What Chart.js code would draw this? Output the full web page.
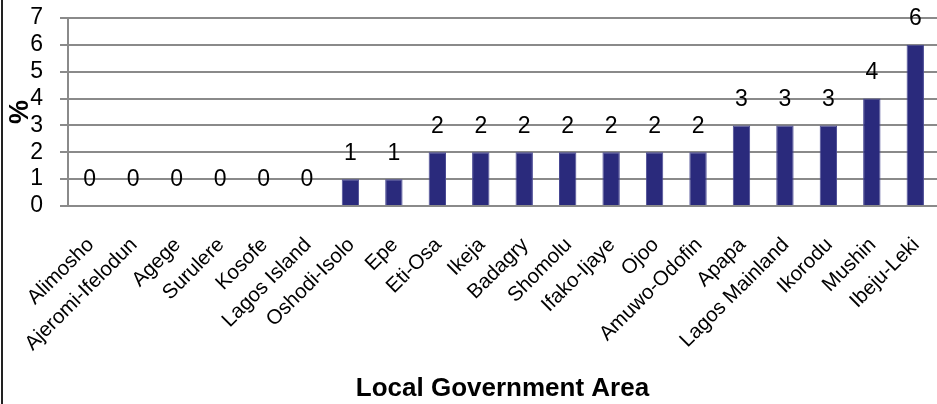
<!DOCTYPE html>
<html>
<head>
<meta charset="utf-8">
<script src="https://cdn.jsdelivr.net/npm/chart.js@4.4.1/dist/chart.umd.min.js"></script>
<style>
  html, body { margin: 0; padding: 0; background: #fff; }
  #wrap { position: relative; width: 937px; height: 404px; }
  #wrap::before {
    content: ""; position: absolute; left: 1px; top: 0; width: 2px; height: 100%;
    background: #222;
  }
  canvas { display: block; }
</style>
</head>
<body>
<div id="wrap"><canvas id="lga-chart" width="937" height="404"></canvas></div>
<script>
const areas = [
  "Alimosho", "Ajeromi-Ifelodun", "Agege", "Surulere", "Kosofe", "Lagos Island",
  "Oshodi-Isolo", "Epe", "Eti-Osa", "Ikeja", "Badagry", "Shomolu", "Ifako-Ijaye",
  "Ojoo", "Amuwo-Odofin", "Apapa", "Lagos Mainland", "Ikorodu", "Mushin", "Ibeju-Leki"
];
const percent = [0, 0, 0, 0, 0, 0, 1, 1, 2, 2, 2, 2, 2, 2, 2, 3, 3, 3, 4, 6];
const yTicks = [0, 1, 2, 3, 4, 5, 6, 7];

const FONT = "'Liberation Sans', Arial, sans-serif";
const GRID = "#8a8a8a";

// value labels sit one unit above each bar, as in the source
const valueLabels = {
  id: "valueLabels",
  afterDatasetsDraw(chart) {
    const { ctx } = chart;
    const y = chart.scales.y;
    const meta = chart.getDatasetMeta(0);
    ctx.save();
    ctx.font = "23px " + FONT;
    ctx.fillStyle = "#000";
    ctx.textAlign = "center";
    ctx.textBaseline = "middle";
    meta.data.forEach((bar, i) => {
      ctx.fillText(String(percent[i]), bar.x, y.getPixelForValue(percent[i] + 1) + 1);
    });
    ctx.restore();
  }
};

new Chart(document.getElementById("lga-chart"), {
  type: "bar",
  data: {
    labels: areas,
    datasets: [{
      data: percent,
      backgroundColor: "#2a2a7c",
      borderColor: "#4a4a94",
      borderWidth: 1,
      barPercentage: 0.4,
      categoryPercentage: 1
    }]
  },
  options: {
    responsive: false,
    animation: false,
    layout: { padding: { top: 18, left: 0, right: 0, bottom: 0 } },
    plugins: { legend: { display: false }, tooltip: { enabled: false } },
    scales: {
      x: {
        grid: { display: false, drawTicks: false, tickLength: 0 },
        border: { display: true, color: GRID, width: 2 },
        ticks: {
          color: "#000",
          font: { family: FONT, size: 20.5 },
          minRotation: 45,
          maxRotation: 45,
          autoSkip: false,
          padding: 27,
          labelOffset: 1
        },
        title: {
          display: true,
          text: "Local Government Area",
          color: "#000",
          font: { family: FONT, size: 26, weight: "bold" },
          padding: { top: 0, bottom: 0 }
        },
        afterFit(s) { s.height = 198; s.paddingLeft = 0; s.paddingRight = 0; }
      },
      y: {
        min: 0,
        max: 7,
        afterBuildTicks(s) { s.ticks = yTicks.map(v => ({ value: v })); },
        grid: { color: GRID, lineWidth: 2, tickLength: 8, drawTicks: true },
        border: { display: true, color: GRID, width: 2 },
        ticks: {
          color: "#000",
          font: { family: FONT, size: 23 },
          padding: 17,
          autoSkip: false
        },
        title: {
          display: true,
          text: "%",
          color: "#000",
          font: { family: FONT, size: 27, weight: "bold" },
          padding: { top: 4, bottom: 0 }
        },
        afterFit(s) { s.width = 68; s.paddingTop = 0; s.paddingBottom = 0; }
      }
    }
  },
  plugins: [valueLabels]
});
</script>
</body>
</html>
